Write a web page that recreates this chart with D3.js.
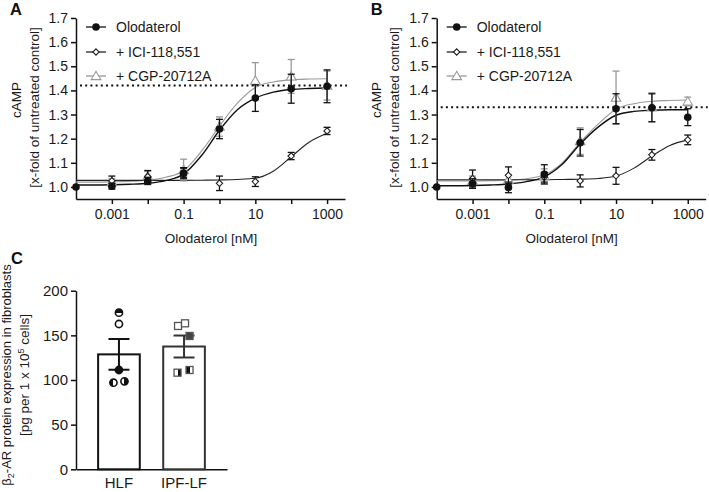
<!DOCTYPE html>
<meta charset="utf-8">
<head>
  <title>cAMP response and beta2-AR expression</title>
</head>
<style>
body { margin: 0; background: #fff; }
svg { display: block; font-family: "Liberation Sans", Arial, sans-serif; }
.axis text { font-size: 14px; fill: #1a1a1a; }
.axis path, .axis line { stroke: #111; stroke-width: 1.5px; }
.axisC text { font-size: 15px; }
.lbl { font-size: 13.5px; fill: #1a1a1a; }
.leg { font-size: 14px; fill: #1a1a1a; }
.letter { font-size: 16.5px; font-weight: bold; fill: #111; }
</style>
<body>
<div id="chart"></div>
<script src="https://cdnjs.cloudflare.com/ajax/libs/d3/7.8.5/d3.min.js"></script>
<script>
// concentrations of olodaterol (nM), one point per decade
var doses = [0.0001, 0.001, 0.01, 0.1, 1, 10, 100, 1000];
var fitLogs = [-4, -3.5, -3, -2.5, -2, -1.5, -1, -0.5, 0, 0.5, 1, 1.5, 2, 2.5, 3];
var seriesNames = ["Olodaterol", "+ ICI-118,551", "+ CGP-20712A"];

// panel A
var oloA = [1.00, 1.003, 1.025, 1.056, 1.24, 1.368, 1.407, 1.417];
var oloAErr = [0, 0.012, 0.015, 0.022, 0.04, 0.055, 0.06, 0.068];
var iciA = [null, 1.025, 1.043, 1.06, 1.015, 1.022, 1.128, 1.232];
var iciAErr = [0, 0.02, 0.025, 0.02, 0.03, 0.02, 0.015, 0.015];
var cgpA = [null, 1.02, 1.045, 1.07, 1.25, 1.44, 1.458, 1.42];
var cgpAErr = [0, 0.015, 0.02, 0.045, 0.04, 0.075, 0.07, 0.06];
var oloAFit = [1.008, 1.008, 1.009, 1.011, 1.015, 1.026, 1.053, 1.13, 1.235, 1.32, 1.368, 1.393, 1.404, 1.408, 1.41];
var iciAFit = [1.027, 1.027, 1.027, 1.027, 1.027, 1.027, 1.027, 1.028, 1.029, 1.031, 1.036, 1.065, 1.125, 1.185, 1.222];
var cgpAFit = [1.02, 1.02, 1.021, 1.023, 1.028, 1.04, 1.067, 1.148, 1.252, 1.347, 1.412, 1.435, 1.444, 1.447, 1.448];
var refA = 1.42;

// panel B
var oloB = [1.00, 1.014, 0.998, 1.052, 1.183, 1.324, 1.328, 1.289];
var oloBErr = [0, 0.02, 0.022, 0.04, 0.055, 0.062, 0.058, 0.035];
var iciB = [null, 1.035, 1.048, 1.04, 1.025, 1.046, 1.133, 1.195];
var iciBErr = [0, 0.035, 0.035, 0.02, 0.025, 0.035, 0.022, 0.02];
var cgpB = [null, 1.025, 1.03, 1.045, 1.19, 1.37, 1.33, 1.354];
var cgpBErr = [0, 0.02, 0.02, 0.03, 0.055, 0.11, 0.06, 0.018];
var oloBFit = [1.005, 1.005, 1.006, 1.008, 1.012, 1.022, 1.042, 1.094, 1.178, 1.248, 1.297, 1.313, 1.318, 1.32, 1.32];
var iciBFit = [1.03, 1.03, 1.03, 1.03, 1.03, 1.03, 1.03, 1.031, 1.032, 1.035, 1.045, 1.078, 1.128, 1.172, 1.195];
var cgpBFit = [1.025, 1.025, 1.025, 1.026, 1.028, 1.034, 1.05, 1.1, 1.185, 1.26, 1.322, 1.345, 1.355, 1.358, 1.36];
var refB = 1.33;

var yTicksAB = [1.0, 1.1, 1.2, 1.3, 1.4, 1.5, 1.6, 1.7];
var xTickDecades = [0.001, 0.01, 0.1, 1, 10, 100, 1000];
var xLabelled = [0.001, 0.1, 10, 1000];

// panel C
var groups = ["HLF", "IPF-LF"];
var groupMeans = [128.7, 137.5];
var groupSems = [17.2, 12.3];
var hlfPoints = [175.4, 162.7, 111.2, 97, 98.5];
var ipfPoints = [160.5, 163.5, 149.3, 108.2, 111.2];
var yTicksC = [0, 50, 100, 150, 200];

var svg = d3.select("#chart").append("svg")
    .attr("width", 709).attr("height", 492);

function errBar(g, x, y, v, e, color) {
  if (!e) return;
  var cap = 3.5;
  g.append("line").attr("x1", x).attr("x2", x).attr("y1", y(v - e)).attr("y2", y(v + e))
    .attr("stroke", color).attr("stroke-width", 1.3);
  [v - e, v + e].forEach(function(w) {
    g.append("line").attr("x1", x - cap).attr("x2", x + cap).attr("y1", y(w)).attr("y2", y(w))
      .attr("stroke", color).attr("stroke-width", 1.3);
  });
}

function marker(g, kind, x, y) {
  if (kind === 0) {
    g.append("circle").attr("cx", x).attr("cy", y).attr("r", 3.8).attr("fill", "#111");
  } else if (kind === 1) {
    g.append("path").attr("d", d3.symbol(d3.symbolDiamond2, 26)())
      .attr("transform", "translate(" + x + "," + y + ")")
      .attr("fill", "#fff").attr("stroke", "#222").attr("stroke-width", 1.1);
  } else {
    g.append("path").attr("d", d3.symbol(d3.symbolTriangle, 40)())
      .attr("transform", "translate(" + x + "," + (y + 0.8) + ")")
      .attr("fill", "#fff").attr("stroke", "#999").attr("stroke-width", 1.1);
  }
}

function drawDose(dx, letter, series, fits, ref) {
  var g = svg.append("g").attr("transform", "translate(" + dx + ",0)");
  var x = d3.scaleLog().domain([1e-4, Math.pow(10, 3.5)]).range([76, 345]);
  var y = d3.scaleLinear().domain([0.95, 1.7]).range([199, 18]);
  var colors = ["#111", "#222", "#999"];

  g.append("g").attr("class", "axis").attr("transform", "translate(76,0)")
    .call(d3.axisLeft(y).tickValues(yTicksAB).tickFormat(d3.format(".1f")).tickSize(5).tickSizeOuter(0));
  g.append("g").attr("class", "axis").attr("transform", "translate(0,199)")
    .call(d3.axisBottom(x).tickValues(xTickDecades).tickSize(5).tickSizeOuter(0).tickPadding(5)
      .tickFormat(function(d) { return xLabelled.indexOf(d) >= 0 ? String(d) : ""; }));

  // reference level
  g.append("line").attr("x1", 80).attr("x2", 347).attr("y1", y(ref)).attr("y2", y(ref))
    .attr("stroke", "#111").attr("stroke-width", 2).attr("stroke-dasharray", "2,3.2");

  var line = d3.line().curve(d3.curveMonotoneX)
    .x(function(d, i) { return x(Math.pow(10, fitLogs[i])); })
    .y(function(d) { return y(d); });
  // draw order: CGP, ICI, olodaterol on top
  [2, 1, 0].forEach(function(k) {
    g.append("path").attr("d", line(fits[k])).attr("fill", "none")
      .attr("stroke", colors[k]).attr("stroke-width", k === 0 ? 1.4 : 1.1);
  });
  [2, 1, 0].forEach(function(k) {
    var vals = series[k][0], errs = series[k][1];
    doses.forEach(function(d, i) {
      if (vals[i] == null) return;
      errBar(g, x(d), y, vals[i], errs[i], colors[k] === "#999" ? "#999" : "#111");
    });
    doses.forEach(function(d, i) {
      if (vals[i] == null) return;
      marker(g, k, x(d), y(vals[i]));
    });
  });

  // legend
  var rows = [27, 52, 76];
  seriesNames.forEach(function(name, k) {
    g.append("line").attr("x1", 86).attr("x2", 106).attr("y1", rows[k]).attr("y2", rows[k])
      .attr("stroke", colors[k]).attr("stroke-width", 1.3);
    marker(g, k, 96, rows[k]);
    g.append("text").attr("class", "leg").attr("x", 116).attr("y", rows[k] + 5).text(name);
  });

  g.append("text").attr("class", "lbl").attr("text-anchor", "middle")
    .attr("transform", "translate(20.5,100) rotate(-90)").text("cAMP");
  g.append("text").attr("class", "lbl").attr("text-anchor", "middle")
    .attr("transform", "translate(38.5,107.5) rotate(-90)").text("[x-fold of untreated control]");
  g.append("text").attr("class", "lbl").attr("text-anchor", "middle")
    .attr("x", 211).attr("y", 243).text("Olodaterol [nM]");
  g.append("text").attr("class", "letter").attr("x", 10).attr("y", 15).text(letter);
}

drawDose(0, "A", [[oloA, oloAErr], [iciA, iciAErr], [cgpA, cgpAErr]], [oloAFit, iciAFit, cgpAFit], refA);
drawDose(360.7, "B", [[oloB, oloBErr], [iciB, iciBErr], [cgpB, cgpBErr]], [oloBFit, iciBFit, cgpBFit], refB);

// panel C: bar chart
var gc = svg.append("g");
var xc = d3.scaleBand().domain(groups).range([76, 227]).paddingInner(0.36).paddingOuter(0.34);
var yc = d3.scaleLinear().domain([0, 200]).range([469.3, 290.7]);

gc.append("g").attr("class", "axis axisC").attr("transform", "translate(76,0)")
  .call(d3.axisLeft(yc).tickValues(yTicksC).tickSize(5).tickSizeOuter(0));
gc.append("g").attr("class", "axis axisC").attr("transform", "translate(0,469.3)")
  .call(d3.axisBottom(xc).tickSize(0).tickSizeOuter(0).tickPadding(8));

gc.selectAll("rect.bar").data(groupMeans).enter().append("rect")
  .attr("x", function(d, i) { return xc(groups[i]); })
  .attr("y", function(d) { return yc(d); })
  .attr("width", xc.bandwidth())
  .attr("height", function(d) { return yc(0) - yc(d); })
  .attr("fill", "#fff").attr("stroke", function(d, i) { return i ? "#333" : "#111"; }).attr("stroke-width", 2);

groupMeans.forEach(function(m, i) {
  var cx = xc(groups[i]) + xc.bandwidth() / 2;
  var col = i ? "#333" : "#111";
  gc.append("line").attr("x1", cx).attr("x2", cx).attr("y1", yc(m - groupSems[i])).attr("y2", yc(m + groupSems[i]))
    .attr("stroke", col).attr("stroke-width", 2);
  [m - groupSems[i], m + groupSems[i]].forEach(function(w) {
    gc.append("line").attr("x1", cx - 10.5).attr("x2", cx + 10.5).attr("y1", yc(w)).attr("y2", yc(w))
      .attr("stroke", col).attr("stroke-width", 2);
  });
});

// individual donors: circles for HLF, squares for IPF-LF
var hlfOffsets = [0, 0, 0, -5.5, 5.5];
var hlfFill = ["top", "open", "full", "left", "right"];
var ipfOffsets = [-6, 1, 5.5, -6.5, 5.5];
var ipfFill = ["open", "open", "full", "right", "left"];
var defs = svg.append("defs");
[["top", 0, 0, 0, 1], ["left", 0, 0, 1, 0], ["right", 1, 0, 0, 0]].forEach(function(s) {
  var lg = defs.append("linearGradient").attr("id", "half-" + s[0])
    .attr("x1", s[1]).attr("y1", s[2]).attr("x2", s[3]).attr("y2", s[4]);
  lg.append("stop").attr("offset", "50%").attr("stop-color", "#111");
  lg.append("stop").attr("offset", "50%").attr("stop-color", "#fff");
});
function fillFor(kind, dark) {
  if (kind === "open") return "#fff";
  if (kind === "full") return dark;
  return "url(#half-" + kind + ")";
}
var hx = xc("HLF") + xc.bandwidth() / 2;
hlfPoints.forEach(function(v, i) {
  gc.append("circle").attr("cx", hx + hlfOffsets[i]).attr("cy", yc(v)).attr("r", 3.6)
    .attr("fill", fillFor(hlfFill[i], "#111")).attr("stroke", "#111").attr("stroke-width", 1.6);
});
var ix = xc("IPF-LF") + xc.bandwidth() / 2;
ipfPoints.forEach(function(v, i) {
  gc.append("rect").attr("x", ix + ipfOffsets[i] - 3.5).attr("y", yc(v) - 3.5).attr("width", 7).attr("height", 7)
    .attr("fill", fillFor(ipfFill[i], "#444")).attr("stroke", "#555").attr("stroke-width", 1.3);
});

var yl = gc.append("text").attr("class", "lbl").attr("text-anchor", "middle")
  .style("font-size", "13px").attr("transform", "translate(11,375) rotate(-90)");
yl.append("tspan").text("\u03B2");
yl.append("tspan").style("font-size", "9px").attr("dy", 3).text("2");
yl.append("tspan").attr("dy", -3).text("-AR protein expression in fibroblasts");
var yl2 = gc.append("text").attr("class", "lbl").attr("text-anchor", "middle")
  .attr("transform", "translate(28.5,375) rotate(-90)");
yl2.append("tspan").text("[pg per 1 x 10");
yl2.append("tspan").style("font-size", "9px").attr("dy", -5).text("5");
yl2.append("tspan").attr("dy", 5).text(" cells]");
gc.append("text").attr("class", "letter").attr("x", 11).attr("y", 264).text("C");
</script>
</body>
</html>
